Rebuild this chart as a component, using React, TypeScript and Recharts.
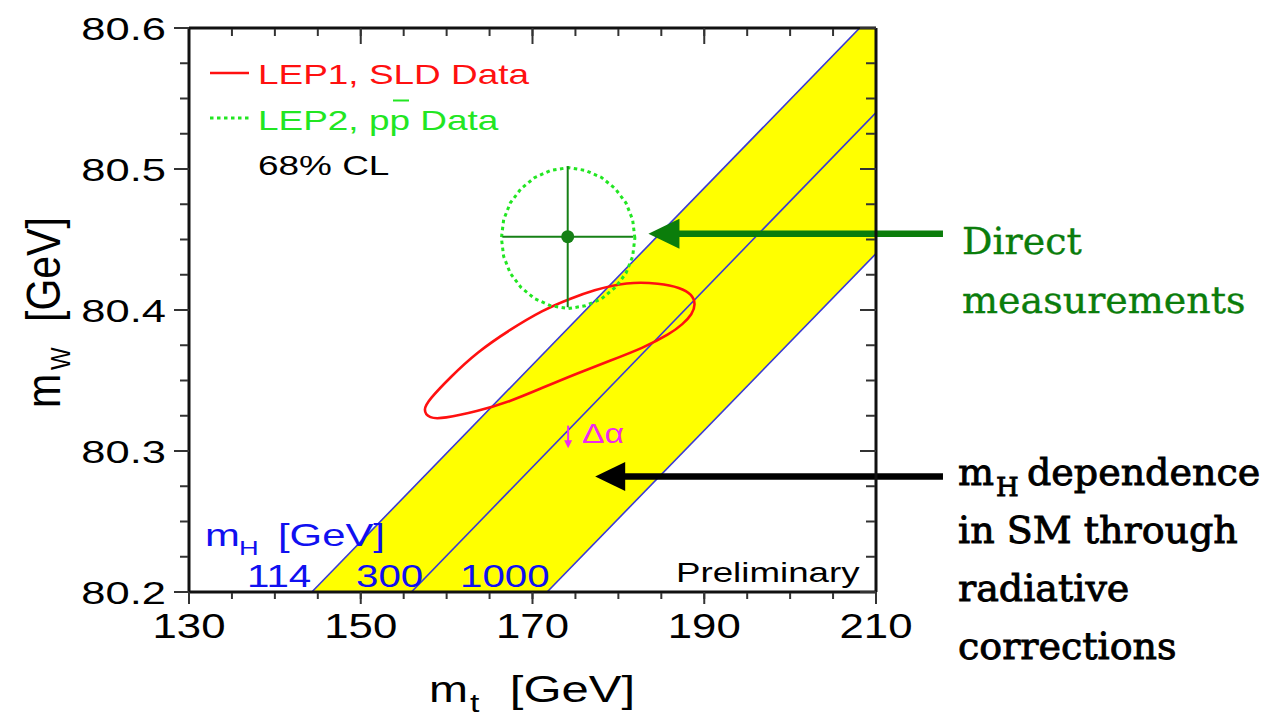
import React from 'react';
import { ComposedChart, Line, Area, Scatter, ErrorBar, XAxis, YAxis, ReferenceLine } from 'recharts';

const SANS = '"Liberation Sans", Arial, Helvetica, sans-serif';
const SERIF = '"DejaVu Serif", serif';

const W = 1265;
const H = 719;
// two 1px axes sit on the left and bottom, so the plot area is 189..876 x 28..592
const MARGIN = { top: 28, right: 389, bottom: 125, left: 187 };

const FRAME = '#111';
const TICK = '#333';
const YELLOW = '#ffff00';
const BLUE_LINE = '#3a3ad6';
const RED = '#ff1010';
const LIGHT_GREEN = '#22e622';
const DARK_GREEN = '#168016';
const ARROW_GREEN = '#0b7d0b';
const BLUE_TEXT = '#1010f0';
const MAGENTA = '#ee2aee';

// axis ticks
const mtMajor = [130, 150, 170, 190, 210];
const mtMinor = [130, 135, 140, 145, 150, 155, 160, 165, 170, 175, 180, 185, 190, 195, 200, 205, 210];
const mwMajor = [80.2, 80.3, 80.4, 80.5, 80.6];
const mwMinor = [80.2, 80.225, 80.25, 80.275, 80.3, 80.325, 80.35, 80.375, 80.4, 80.425, 80.45, 80.475, 80.5, 80.525, 80.55, 80.575, 80.6];

// SM prediction for m_H = 114, 300, 1000 GeV
const higgs114 = [{ mt: 144.3, mw: 80.2 }, { mt: 208.1, mw: 80.6 }];
const higgs300 = [{ mt: 155.9, mw: 80.2 }, { mt: 210, mw: 80.54 }];
const higgs1000 = [{ mt: 171.7, mw: 80.2 }, { mt: 210, mw: 80.44 }];

// allowed band between the 114 and 1000 GeV lines, clipped to the frame
const smBand = [
  { mt: 144.3, range: [80.2, 80.2] },
  { mt: 171.7, range: [80.2, 80.372] },
  { mt: 208.1, range: [80.428, 80.6] },
  { mt: 210, range: [80.44, 80.6] },
];

// LEP1 + SLD indirect 68% CL contour
const lep1Contour = [
  { mt: 157.2, mw: 80.329 },
  { mt: 158.04, mw: 80.337 },
  { mt: 160.37, mw: 80.352 },
  { mt: 163.52, mw: 80.37 },
  { mt: 167.36, mw: 80.386 },
  { mt: 171.21, mw: 80.4 },
  { mt: 174.35, mw: 80.408 },
  { mt: 177.03, mw: 80.414 },
  { mt: 180.99, mw: 80.42 },
  { mt: 184.84, mw: 80.419 },
  { mt: 187.17, mw: 80.416 },
  { mt: 188.6, mw: 80.411 },
  { mt: 189.0, mw: 80.404 },
  { mt: 188.6, mw: 80.397 },
  { mt: 187.51, mw: 80.39 },
  { mt: 186.0, mw: 80.383 },
  { mt: 182.85, mw: 80.373 },
  { mt: 179.01, mw: 80.364 },
  { mt: 175.17, mw: 80.355 },
  { mt: 171.21, mw: 80.345 },
  { mt: 167.36, mw: 80.335 },
  { mt: 163.52, mw: 80.328 },
  { mt: 159.56, mw: 80.323 },
  { mt: 158.0, mw: 80.323 },
];

// LEP2 + Tevatron direct 68% CL contour
const directContour = [
  { mt: 181.92, mw: 80.451 },
  { mt: 181.66, mw: 80.464 },
  { mt: 180.88, mw: 80.476 },
  { mt: 179.64, mw: 80.486 },
  { mt: 178.04, mw: 80.494 },
  { mt: 176.16, mw: 80.499 },
  { mt: 174.15, mw: 80.501 },
  { mt: 172.14, mw: 80.499 },
  { mt: 170.27, mw: 80.494 },
  { mt: 168.66, mw: 80.486 },
  { mt: 167.42, mw: 80.476 },
  { mt: 166.64, mw: 80.464 },
  { mt: 166.38, mw: 80.451 },
  { mt: 166.64, mw: 80.438 },
  { mt: 167.42, mw: 80.426 },
  { mt: 168.66, mw: 80.416 },
  { mt: 170.27, mw: 80.408 },
  { mt: 172.14, mw: 80.403 },
  { mt: 174.15, mw: 80.401 },
  { mt: 176.16, mw: 80.403 },
  { mt: 178.04, mw: 80.408 },
  { mt: 179.64, mw: 80.416 },
  { mt: 180.88, mw: 80.426 },
  { mt: 181.66, mw: 80.438 },
];

const directPoint = [{ mt: 174.1, mw: 80.452, dmt: 7.6, dmw: 0.05 }];

// annotation arrows (tail, head)
const directArrow = [{ x: 217.8, y: 80.454 }, { x: 183.5, y: 80.454 }];
const higgsArrow = [{ x: 217.8, y: 80.282 }, { x: 177.3, y: 80.282 }];
const alphaArrow = [{ x: 174.15, y: 80.318 }, { x: 174.15, y: 80.302 }];

function arrowShape(color: string, width: number, len: number, half: number) {
  return (p: any) => {
    const { x1, y1, x2, y2 } = p;
    const dx = x2 - x1;
    const dy = y2 - y1;
    const d = Math.hypot(dx, dy) || 1;
    const ux = dx / d;
    const uy = dy / d;
    const bx = x2 - ux * len;
    const by = y2 - uy * len;
    return (
      <g>
        <line x1={x1} y1={y1} x2={bx + ux} y2={by + uy} stroke={color} strokeWidth={width} />
        <polygon
          points={`${x2},${y2} ${bx - uy * half},${by + ux * half} ${bx + uy * half},${by - ux * half}`}
          fill={color}
        />
      </g>
    );
  };
}

function MtTick(p: any) {
  const { x, y, payload } = p;
  return (
    <text transform={`translate(${x} ${y + 34}) scale(1.25 1)`} textAnchor="middle" fontFamily={SANS} fontSize={35} fill="#000">
      {payload.value}
    </text>
  );
}

function MwTick(p: any) {
  const { x, y, payload } = p;
  return (
    <text transform={`translate(${x - 8} ${y + 11.5}) scale(1.36 1)`} textAnchor="end" fontFamily={SANS} fontSize={32} fill="#000">
      {Number(payload.value).toFixed(1)}
    </text>
  );
}

// tick marks only, no label
const NoLabel = () => <g />;

function Label({ x, y, size, sx = 1.32, fill = '#000', anchor = 'start', children }: any) {
  return (
    <text transform={`translate(${x} ${y}) scale(${sx} 1)`} fontFamily={SANS} fontSize={size} fill={fill} textAnchor={anchor}>
      {children}
    </text>
  );
}

function Note({ x, y, size = 38, fill, bold = false, children }: any) {
  return (
    <text
      x={x}
      y={y}
      fontFamily={SERIF}
      fontSize={size}
      fill={fill}
      stroke={fill}
      strokeWidth={bold ? 0.9 : 0.35}
    >
      {children}
    </text>
  );
}

const frameLine = { stroke: FRAME, strokeWidth: 3 };
const tickLine = { stroke: TICK, strokeWidth: 2 };

function Overlay() {
  return (
    <svg width={W} height={H} style={{ position: 'absolute', left: 0, top: 0, pointerEvents: 'none' }}>
      {/* legend */}
      <line x1={210} y1={73} x2={249} y2={73} stroke={RED} strokeWidth={2.5} />
      <Label x={258} y={83.5} size={28} fill={RED}>LEP1, SLD Data</Label>
      <line x1={210} y1={118} x2={250} y2={118} stroke={LIGHT_GREEN} strokeWidth={3} strokeDasharray="3.5 3.5" />
      <Label x={258} y={130} size={28} fill={LIGHT_GREEN}>LEP2, pp Data</Label>
      <line x1={393} y1={100.5} x2={409} y2={100.5} stroke={LIGHT_GREEN} strokeWidth={2} />
      <Label x={258} y={175} size={28}>68% CL</Label>

      {/* Higgs mass labels */}
      <Label x={205} y={546} size={31} sx={1.35} fill={BLUE_TEXT}>m</Label>
      <Label x={239} y={555} size={21} sx={1.3} fill={BLUE_TEXT}>H</Label>
      <Label x={278} y={546} size={31} sx={1.35} fill={BLUE_TEXT}>[GeV]</Label>
      <Label x={247} y={587} size={32} sx={1.26} fill={BLUE_TEXT}>114</Label>
      <Label x={356} y={587} size={32} sx={1.26} fill={BLUE_TEXT}>300</Label>
      <Label x={460} y={587} size={32} sx={1.26} fill={BLUE_TEXT}>1000</Label>

      <Label x={676} y={582} size={27} sx={1.36}>Preliminary</Label>
      <Label x={582} y={443} size={27} sx={1.25} fill={MAGENTA}>Δα</Label>

      {/* axis titles */}
      <Label x={429} y={702} size={36} sx={1.3}>m</Label>
      <Label x={470} y={712} size={26} sx={1.3}>t</Label>
      <Label x={635} y={702} size={36} sx={1.36} anchor="end">[GeV]</Label>
      <g transform="translate(60 408) rotate(-90) scale(1 1.15)">
        <text x={0} y={0} fontFamily={SANS} fontSize={41} fill="#000">m</text>
        <text x={38} y={9} fontFamily={SANS} fontSize={24} fill="#000">W</text>
        <text x={86} y={0} fontFamily={SANS} fontSize={41} fill="#000">[GeV]</text>
      </g>

      {/* side notes */}
      <Note x={962} y={254} fill={ARROW_GREEN}>Direct</Note>
      <Note x={962} y={313} fill={ARROW_GREEN}>measurements</Note>
      <Note x={958} y={485} fill="#000" bold>m</Note>
      <Note x={996} y={496} size={26} fill="#000" bold>H</Note>
      <Note x={1027} y={485} fill="#000" bold>dependence</Note>
      <Note x={958} y={543} fill="#000" bold>in SM through</Note>
      <Note x={958} y={601} fill="#000" bold>radiative</Note>
      <Note x={958} y={659} fill="#000" bold>corrections</Note>
    </svg>
  );
}

export default function App() {
  return (
    <div style={{ position: 'absolute', left: 0, top: 0, width: W, height: H, background: '#fff' }}>
      <ComposedChart width={W} height={H} margin={MARGIN}>
        <XAxis xAxisId={0} dataKey="mt" type="number" domain={[130, 210]} ticks={mtMajor} interval={0} height={1}
          tickSize={12} tickMargin={0} axisLine={frameLine} tickLine={tickLine} tick={MtTick} allowDataOverflow />
        <XAxis xAxisId="mtMinor" dataKey="mt" type="number" domain={[130, 210]} ticks={mtMinor} interval={0} height={1}
          tickSize={6} axisLine={false} tickLine={tickLine} tick={NoLabel} allowDataOverflow />
        <XAxis xAxisId="mtTop" orientation="top" mirror dataKey="mt" type="number" domain={[130, 210]} ticks={mtMajor}
          interval={0} height={1} tickSize={16} axisLine={frameLine} tickLine={tickLine} tick={NoLabel} allowDataOverflow />
        <XAxis xAxisId="mtTopMinor" orientation="top" mirror dataKey="mt" type="number" domain={[130, 210]} ticks={mtMinor}
          interval={0} height={1} tickSize={7} axisLine={false} tickLine={tickLine} tick={NoLabel} allowDataOverflow />

        <YAxis yAxisId={0} type="number" domain={[80.2, 80.6]} ticks={mwMajor} interval={0} width={1}
          tickSize={15} tickMargin={0} axisLine={frameLine} tickLine={tickLine} tick={MwTick} allowDataOverflow />
        <YAxis yAxisId="mwMinor" type="number" domain={[80.2, 80.6]} ticks={mwMinor} interval={0} width={1}
          tickSize={8} axisLine={false} tickLine={tickLine} tick={NoLabel} allowDataOverflow />
        <YAxis yAxisId="mwRight" orientation="right" mirror type="number" domain={[80.2, 80.6]} ticks={mwMajor}
          interval={0} width={1} tickSize={16} axisLine={frameLine} tickLine={tickLine} tick={NoLabel} allowDataOverflow />
        <YAxis yAxisId="mwRightMinor" orientation="right" mirror type="number" domain={[80.2, 80.6]} ticks={mwMinor}
          interval={0} width={1} tickSize={9} axisLine={false} tickLine={tickLine} tick={NoLabel} allowDataOverflow />

        <Area data={smBand} dataKey="range" type="linear" stroke="none" fill={YELLOW} fillOpacity={1} isAnimationActive={false} />
        <Line data={higgs114} dataKey="mw" type="linear" stroke={BLUE_LINE} strokeWidth={1.6} dot={false} activeDot={false} isAnimationActive={false} />
        <Line data={higgs300} dataKey="mw" type="linear" stroke={BLUE_LINE} strokeWidth={1.6} dot={false} activeDot={false} isAnimationActive={false} />
        <Line data={higgs1000} dataKey="mw" type="linear" stroke={BLUE_LINE} strokeWidth={1.6} dot={false} activeDot={false} isAnimationActive={false} />
        <Line data={lep1Contour} dataKey="mw" type="basisClosed" stroke={RED} strokeWidth={2.6} dot={false} activeDot={false}
          isAnimationActive={false} />
        <Line data={directContour} dataKey="mw" type="linearClosed" stroke={LIGHT_GREEN} strokeWidth={3} strokeDasharray="3.5 3.5"
          dot={false} activeDot={false} isAnimationActive={false} />
        <Scatter data={directPoint} dataKey="mw" fill={DARK_GREEN} isAnimationActive={false}
          shape={(p: any) => <circle cx={p.cx} cy={p.cy} r={6.5} fill={DARK_GREEN} />}>
          <ErrorBar dataKey="dmt" direction="x" width={0} stroke={DARK_GREEN} strokeWidth={2} />
          <ErrorBar dataKey="dmw" direction="y" width={0} stroke={DARK_GREEN} strokeWidth={2} />
        </Scatter>

        <ReferenceLine segment={alphaArrow} ifOverflow="visible" shape={arrowShape(MAGENTA, 2, 8, 4)} />
        <ReferenceLine segment={directArrow} ifOverflow="visible" shape={arrowShape(ARROW_GREEN, 6.5, 31, 15)} />
        <ReferenceLine segment={higgsArrow} ifOverflow="visible" shape={arrowShape('#000', 6.5, 30, 14.5)} />
      </ComposedChart>
      <Overlay />
    </div>
  );
}
